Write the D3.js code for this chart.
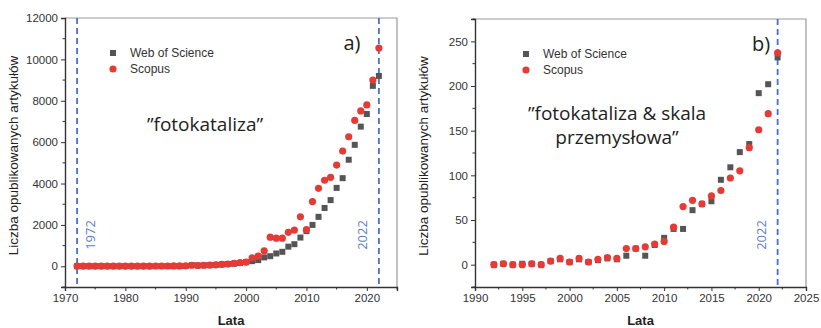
<!DOCTYPE html>
<html>
<head>
<meta charset="utf-8">
<script src="https://cdn.jsdelivr.net/npm/d3@7"></script>
<style>
  body { margin: 0; background: #fff; }
  svg { display: block; font-family: "Liberation Sans", Arial, sans-serif; }
</style>
</head>
<body>
<svg id="chart" width="821" height="328"></svg>
<script>
// panel a) "fotokataliza", 1972-2022
const yearsA = d3.range(1972, 2023);
const wosA = [
    5, 5, 5, 5, 5, 5, 5, 5, 5, 5,
    5, 5, 5, 5, 5, 5, 10, 10, 15, 60,
    40, 50, 60, 70, 90, 110, 130, 160, 200, 250,
    300, 430, 490, 620, 700, 950, 1070, 1390, 1700, 2000,
    2390, 2820, 3200, 3790, 4260, 5150, 5870, 6750, 7360, 8720,
    9200
];
const scopusA = [
    10, 10, 10, 10, 10, 10, 10, 10, 10, 10,
    10, 10, 10, 15, 15, 15, 20, 20, 25, 50,
    40, 50, 60, 70, 90, 110, 140, 180, 200, 410,
    490, 750, 1410, 1360, 1360, 1640, 1750, 2390, 1770, 3130,
    3770, 4160, 4300, 4890, 5570, 6260, 7050, 7510, 7800, 9000,
    10550
];

// panel b) "fotokataliza & skala przemysłowa", 1992-2022
const yearsB = d3.range(1992, 2023);
const wosB = [
    0, 1, 0, 1, 1, 0, 4, 6, 3, 6,
    3, 5, 7, 6, 10, 18, 10, 22, 30, 40,
    40, 61, 68, 71, 95, 109, 126, 135, 192, 202,
    232
];
const scopusB = [
    0, 1, 0, 0, 1, 0, 4, 7, 3, 7,
    3, 6, 8, 7, 18, 18, 20, 23, 26, 42,
    65, 72, 68, 77, 83, 97, 105, 131, 151, 169,
    237
];

const xTicksA = [1970, 1980, 1990, 2000, 2010, 2020];
const yTicksA = [0, 2000, 4000, 6000, 8000, 10000, 12000];
const xTicksB = [1990, 1995, 2000, 2005, 2010, 2015, 2020, 2025];
const yTicksB = [0, 50, 100, 150, 200, 250];

const seriesNames = ["Web of Science", "Scopus"];

const svg = d3.select("#chart");
const grey = "#555", red = "#e53a35", blue = "#4a6fd0";

function panel(opt) {
    const x = d3.scaleLinear().domain(opt.xDomain).range([opt.left, opt.right]);
    const y = d3.scaleLinear().domain(opt.yDomain).range([opt.bottom, opt.top]);
    const g = svg.append("g");

    // frame top + right
    g.append("path")
        .attr("d", `M${opt.left},${opt.top}H${opt.right}V${opt.bottom}`)
        .attr("fill", "none").attr("stroke", "#999").attr("stroke-width", 1.2);

    // minor ticks
    const yMinor = d3.range(opt.yDomain[0], opt.yDomain[1] + 1e-9, opt.yMinor)
        .filter(v => !opt.yTicks.includes(v));
    const xMinor = d3.range(opt.xDomain[0], opt.xDomain[1] + 1e-9, opt.xMinor)
        .filter(v => !opt.xTicks.includes(v));

    const xAxis = g.append("g")
        .attr("transform", `translate(0,${opt.bottom})`)
        .call(d3.axisBottom(x).tickValues(opt.xTicks).tickFormat(d3.format("d")).tickSize(4).tickPadding(3));
    xAxis.append("g").selectAll("line").data(xMinor).join("line")
        .attr("x1", d => x(d)).attr("x2", d => x(d)).attr("y1", 0).attr("y2", 2.5)
        .attr("stroke", "#333");

    const yAxis = g.append("g")
        .attr("transform", `translate(${opt.left},0)`)
        .call(d3.axisLeft(y).tickValues(opt.yTicks).tickFormat(d3.format("d")).tickSize(4).tickPadding(3));
    yAxis.append("g").selectAll("line").data(yMinor).join("line")
        .attr("y1", d => y(d)).attr("y2", d => y(d)).attr("x1", 0).attr("x2", -2.5)
        .attr("stroke", "#333");

    [xAxis, yAxis].forEach(a => {
        a.select(".domain").attr("stroke", "#333").attr("stroke-width", 1.4);
        a.selectAll(".tick line").attr("stroke", "#333");
        a.selectAll("text").attr("font-size", 11.5).attr("fill", "#333")
            .attr("font-family", "Liberation Sans, Arial, sans-serif");
    });

    // dashed year lines
    opt.marks.forEach(m => {
        g.append("line")
            .attr("x1", x(m)).attr("x2", x(m)).attr("y1", opt.top).attr("y2", opt.bottom)
            .attr("stroke", blue).attr("stroke-width", 1.8).attr("stroke-dasharray", "6,4");
        g.append("text")
            .attr("transform", `translate(${x(m) + (m < 2000 ? 18 : -12)},${opt.bottom - 52}) rotate(-90)`)
            .attr("text-anchor", "middle")
            .attr("font-family", "Open Sans, sans-serif").attr("font-size", 13)
            .attr("fill", "#5b7fc9")
            .text(m);
    });

    // points
    g.append("g").selectAll("rect").data(opt.years).join("rect")
        .attr("x", (d, i) => x(d) - 3).attr("y", (d, i) => y(opt.wos[i]) - 3)
        .attr("width", 6).attr("height", 6).attr("fill", grey);
    g.append("g").selectAll("circle").data(opt.years).join("circle")
        .attr("cx", d => x(d)).attr("cy", (d, i) => y(opt.scopus[i]))
        .attr("r", 3.6).attr("fill", red);

    // legend
    const lg = g.append("g").attr("transform", `translate(${opt.legendX},${opt.top + 35})`);
    seriesNames.forEach((s, i) => {
        const row = lg.append("g").attr("transform", `translate(0,${i * 16})`);
        if (i === 0) row.append("rect").attr("x", -3).attr("y", -3).attr("width", 6).attr("height", 6).attr("fill", grey);
        else row.append("circle").attr("r", 3.6).attr("fill", red);
        row.append("text").attr("x", 17).attr("y", 4).attr("font-size", 12).attr("fill", "#333").text(s);
    });

    // annotation
    opt.note.forEach((line, i) => {
        g.append("text")
            .attr("font-family", "Open Sans, sans-serif").attr("font-size", 19)
            .attr("fill", "#222").attr("text-anchor", "middle")
            .attr("x", opt.noteX).attr("y", opt.noteY + i * 24).text(line);
    });

    g.append("text")
        .attr("x", opt.right - 45).attr("y", opt.top + 32)
        .attr("font-family", "Open Sans, sans-serif").attr("font-size", 20)
        .attr("fill", "#222").attr("text-anchor", "middle").text(opt.tag);

    // axis titles
    g.append("text")
        .attr("transform", `translate(${opt.left - 47},${(opt.top + opt.bottom) / 2 + 3}) rotate(-90)`)
        .attr("text-anchor", "middle").attr("font-size", 13.5).attr("fill", "#222")
        .text("Liczba opublikowanych artykułów");
    g.append("text")
        .attr("x", (opt.left + opt.right) / 2).attr("y", 325)
        .attr("text-anchor", "middle").attr("font-size", 13).attr("font-weight", "bold").attr("fill", "#222")
        .text("Lata");
}

panel({
    left: 65, right: 397, top: 18, bottom: 287,
    xDomain: [1970, 2025], yDomain: [-1000, 12000],
    xTicks: xTicksA, yTicks: yTicksA, xMinor: 5, yMinor: 1000,
    years: yearsA, wos: wosA, scopus: scopusA,
    marks: [1972, 2022], legendX: 113,
    note: ["\u201dfotokataliza\u201d"], noteX: 205, noteY: 131,
    tag: "a)"
});

panel({
    left: 475, right: 806, top: 19, bottom: 287,
    xDomain: [1990, 2025], yDomain: [-25, 275],
    xTicks: xTicksB, yTicks: yTicksB, xMinor: 2.5, yMinor: 25,
    years: yearsB, wos: wosB, scopus: scopusB,
    marks: [2022], legendX: 526,
    note: ["\u201dfotokataliza & skala", "przemys\u0142owa\u201d"], noteX: 617, noteY: 120,
    tag: "b)"
});
</script>
</body>
</html>
